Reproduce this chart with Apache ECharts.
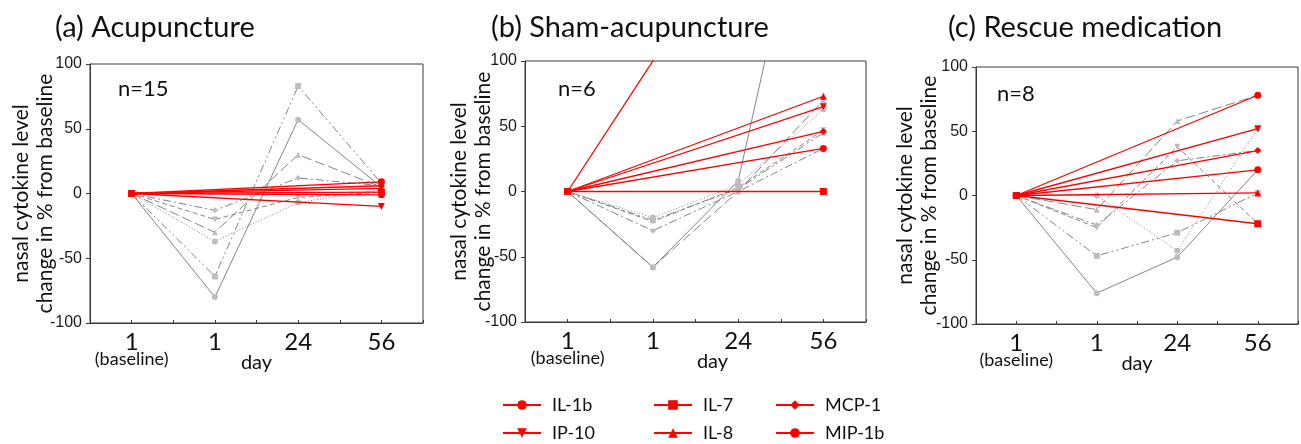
<!DOCTYPE html>
<html>
<head>
<meta charset="utf-8">
<script src="https://cdn.jsdelivr.net/npm/echarts@6/dist/echarts.min.js"></script>
<style>
  html, body { margin: 0; padding: 0; background: #fff; }
  #main { width: 1301px; height: 444px; }
</style>
</head>
<body>
<div id="main"></div>
<script>
// x positions: baseline, day 1, day 24, day 56
var xLabels = ['1', '1', '24', '56'];
var panelTitles = ['(a) Acupuncture', '(b) Sham-acupuncture', '(c) Rescue medication'];
var panelN = ['n=15', 'n=6', 'n=8'];
var cytokines = ['IL-1b', 'IL-7', 'MCP-1', 'IP-10', 'IL-8', 'MIP-1b'];

// red: mean change at day 56, drawn straight from baseline
var redA = [9, 1, 6, -10, 4, -1];
var redB = [300, 0, 46, 65, 73, 33];
var redC = [78, -22, 35, 52, 2, 20];

// grey: single cytokine courses (baseline, day 1, day 24, day 56)
var greyA = [
  [0, -64, 83, 8],
  [0, -80, 57, 5],
  [0, -30, 30, 5],
  [0, -13, 12, 6],
  [0, -20, -3, 1],
  [0, -37, -7, 3]
];
var greyB = [
  [0, -22, 2, 45],
  [0, -58, 8, 300],
  [0, -58, 0, 70],
  [0, -30, 0, 33],
  [0, -23, 3, 47],
  [0, -20, 5, 63]
];
var greyC = [
  [0, -47, -29, 2],
  [0, -76, -48, 20],
  [0, -11, 58, 78],
  [0, -23, 27, 35],
  [0, -25, 38, -22],
  [0, 0, -43, 52]
];

var redSets = [redA, redB, redC];
var greySets = [greyA, greyB, greyC];

// looks
var redSymbols = ['circle', 'rect', 'diamond', 'triangle', 'triangle', 'circle'];
var redRotate = [0, 0, 0, 180, 0, 0];
var greySymbols = ['rect', 'circle', 'triangle', 'diamond', 'triangle', 'circle'];
var greyRotate = [0, 0, 0, 0, 180, 0];
var greyDash = [[8, 3, 2, 3, 2, 3], 'solid', [10, 4], [8, 3, 2, 3], [5, 3], [1, 2]];

var grids = [
  { left: 90, top: 64, width: 333, height: 259 },
  { left: 525, top: 61, width: 341, height: 261 },
  { left: 976, top: 67, width: 322, height: 257 }
];
var nameGaps = [33, 30, 35];
var titleLeft = [50, 486, 943];
var nPos = [[118, 78], [558, 78], [997, 83]];
// legend slots: [left, top] in the order of cytokines
var legendPos = [[497, 391], [648, 391], [770, 391], [497, 419], [648, 419], [770, 419]];

var txt = 'Lato';
var frame = '#3a3a3a';

var option = {
  animation: false,
  backgroundColor: '#fff',
  title: [],
  grid: [],
  xAxis: [],
  yAxis: [],
  series: [],
  graphic: [],
  legend: cytokines.map(function (c, i) {
    return {
      data: [c],
      left: legendPos[i][0],
      top: legendPos[i][1],
      itemWidth: 38,
      itemHeight: 12,
      selectedMode: false,
      textStyle: { fontFamily: txt, fontSize: 18, lineHeight: 18, color: '#111', padding: [0, 0, 0, 6] }
    };
  })
};

for (var p = 0; p < 3; p++) {
  option.title.push({
    text: panelTitles[p],
    left: titleLeft[p],
    top: 8,
    textStyle: { fontFamily: txt, fontSize: 29, fontWeight: 'normal', color: '#111' }
  });
  option.grid.push({
    left: grids[p].left, top: grids[p].top, width: grids[p].width, height: grids[p].height,
    show: true, borderColor: frame, borderWidth: 1
  });
  option.xAxis.push({
    type: 'value', gridIndex: p, min: -0.5, max: 3.5, interval: 0.5,
    name: 'day', nameLocation: 'middle', nameGap: 30, nameMoveOverlap: false,
    nameTextStyle: { fontFamily: txt, fontSize: 20, color: '#111', padding: p === 1 ? [0, 0, 0, 34] : 0 },
    axisLine: { onZero: false, lineStyle: { color: frame } },
    axisTick: { inside: true, length: 3, lineStyle: { color: frame } },
    splitLine: { show: false },
    axisLabel: {
      margin: 12,
      showMinLabel: true, showMaxLabel: true,
      formatter: function (v) {
        var i = Math.round(v);
        if (Math.abs(v - i) > 0.01 || i < 0 || i > 3) return '';
        if (i === 0) return '{n|' + xLabels[0] + '}\n{s|(baseline)}';
        return '{n|' + xLabels[i] + '}';
      },
      rich: {
        n: { fontFamily: txt, fontSize: 24, lineHeight: 15, color: '#111' },
        s: { fontFamily: txt, fontSize: 18, lineHeight: 12, color: '#111', padding: [6, 0, 0, 0] }
      }
    }
  });
  option.yAxis.push({
    type: 'value', gridIndex: p, min: -100, max: 100, interval: 50,
    name: 'nasal cytokine level\nchange in % from baseline',
    nameLocation: 'middle', nameRotate: 90, nameGap: nameGaps[p], nameMoveOverlap: false,
    nameTextStyle: { fontFamily: txt, fontSize: 21, lineHeight: 24, color: '#111' },
    axisLine: { show: true, onZero: false, lineStyle: { color: frame } },
    axisTick: { show: true, length: 4, lineStyle: { color: frame } },
    splitLine: { show: false },
    axisLabel: { margin: 8, fontFamily: 'Liberation Sans', fontSize: 16, color: '#1a1a1a' }
  });
  option.graphic.push({
    type: 'text', left: nPos[p][0], top: nPos[p][1],
    style: { text: panelN[p], font: '22px ' + txt, fill: '#111' }
  });

  greySets[p].forEach(function (row, i) {
    option.series.push({
      type: 'line', name: 'grey' + p + '_' + i,
      xAxisIndex: p, yAxisIndex: p,
      data: row.map(function (v, j) { return [j, v]; }),
      symbol: greySymbols[i], symbolRotate: greyRotate[i], symbolSize: 6,
      itemStyle: { color: '#bdbdbd' },
      lineStyle: { color: '#858585', width: 1, type: greyDash[i] },
      z: 2, clip: true
    });
  });
  redSets[p].forEach(function (v, i) {
    option.series.push({
      type: 'line', name: cytokines[i],
      xAxisIndex: p, yAxisIndex: p,
      data: [[0, 0], [3, v]],
      symbol: redSymbols[i], symbolRotate: redRotate[i], symbolSize: 7,
      itemStyle: { color: '#ff0000' },
      lineStyle: { color: '#ff0000', width: 1.3 },
      z: 3, clip: true
    });
  });
}

var chart = echarts.init(document.getElementById('main'), null, { renderer: 'canvas' });
chart.setOption(option);
</script>
</body>
</html>
